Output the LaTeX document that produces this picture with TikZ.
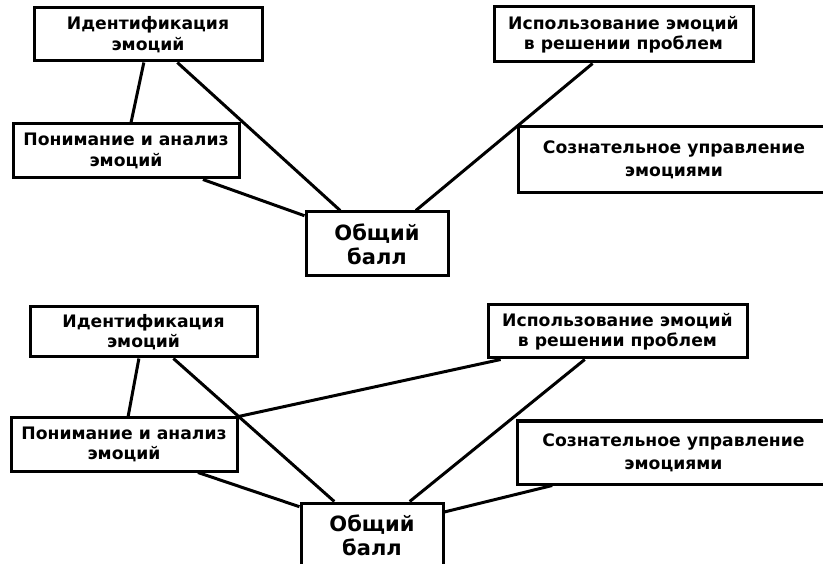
\documentclass[tikz,border=0pt]{standalone}
\usepackage{fontspec}
\setmainfont{DejaVu Sans}
\usetikzlibrary{calc}
\tikzset{
  box/.style={draw, line width=3pt, inner sep=0pt, align=center, fill=white,
    font=\bfseries\fontsize{17.2}{20.5}\selectfont},
  widebox/.style={box, font=\bfseries\fontsize{17.2}{23}\selectfont},
  bigbox/.style={box, font=\bfseries\fontsize{21}{24}\selectfont},
  link/.style={line width=3pt}
}
\begin{document}
\begin{tikzpicture}[x=1pt,y=-1pt]
\useasboundingbox (0,0) rectangle (823,564);
\clip (0,0) rectangle (823,564);
% ---------- top diagram ----------
\node[box, minimum width=228pt, minimum height=53pt] (A) at (148,34.5) {Идентификация\\эмоций};
\node[box, minimum width=226pt, minimum height=54pt] (B) at (126,151) {Понимание и анализ\\эмоций};
\node[bigbox, minimum width=142pt, minimum height=64pt] (C) at (377,244) {Общий\\балл};
\node[box, minimum width=259pt, minimum height=55pt] (D) at (623.5,34.5) {Использование эмоций\\в решении проблем};
\node[widebox, minimum width=312pt, minimum height=66pt] (E) at (674,159.5) {Сознательное управление\\эмоциями};
\draw[link] ($(A.south west)!0.482!(A.south east)$) -- ($(B.north west)!0.522!(B.north east)$);
\draw[link] ($(A.south west)!0.627!(A.south east)$) -- ($(C.north west)!0.246!(C.north east)$);
\draw[link] ($(B.south west)!0.836!(B.south east)$) -- ($(C.north west)!0.078!(C.south west)$);
\draw[link] ($(D.south west)!0.382!(D.south east)$) -- ($(C.north west)!0.768!(C.north east)$);
% ---------- bottom diagram ----------
\node[box, minimum width=227pt, minimum height=50pt] (A2) at (143.5,332) {Идентификация\\эмоций};
\node[box, minimum width=226pt, minimum height=53pt] (B2) at (124,444.5) {Понимание и анализ\\эмоций};
\node[bigbox, minimum width=142pt, minimum height=64pt] (C2) at (372,535) {Общий\\балл};
\node[box, minimum width=259pt, minimum height=53pt] (D2) at (617.5,331.5) {Использование эмоций\\в решении проблем};
\node[widebox, minimum width=312pt, minimum height=63pt] (E2) at (673.5,452.5) {Сознательное управление\\эмоциями};
\draw[link] ($(A2.south west)!0.48!(A2.south east)$) -- ($(B2.north west)!0.518!(B2.north east)$);
\draw[link] ($(A2.south west)!0.63!(A2.south east)$) -- ($(C2.north west)!0.24!(C2.north east)$);
\draw[link] ($(D2.south west)!0.054!(D2.south east)$) -- (B2.north east);
\draw[link] ($(B2.south west)!0.823!(B2.south east)$) -- ($(C2.north west)!0.078!(C2.south west)$);
\draw[link] ($(D2.south west)!0.375!(D2.south east)$) -- ($(C2.north west)!0.76!(C2.north east)$);
\draw[link] ($(E2.south west)!0.115!(E2.south east)$) -- ($(C2.north east)!0.156!(C2.south east)$);
\end{tikzpicture}
\end{document}
